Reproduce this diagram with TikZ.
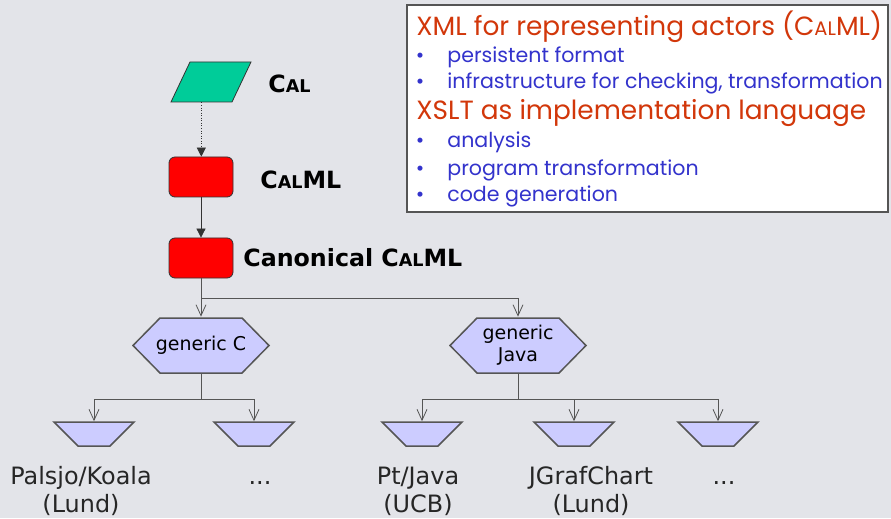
\documentclass[tikz,border=0pt]{standalone}
\usepackage{fontspec}
\setmainfont{DejaVu Sans}
\newfontfamily\notefont{Poppins}
\usetikzlibrary{arrows.meta,shapes.geometric}
\definecolor{slidegray}{RGB}{227,228,233}
\definecolor{calgreen}{RGB}{0,204,153}
\definecolor{calred}{RGB}{255,0,0}
\definecolor{backlilac}{RGB}{204,204,255}
\definecolor{edgegray}{RGB}{85,85,85}
\definecolor{headred}{RGB}{210,55,10}
\definecolor{itemblue}{RGB}{51,51,204}
\newcommand{\fakesc}[1]{\scalebox{0.74}{#1}}

\begin{document}
\begin{tikzpicture}[
    srcbox/.style={rectangle, xslant=0.475, minimum width=1.22cm, minimum height=0.80cm,
      inner sep=0pt, fill=calgreen, draw=black!80, line width=0.016cm},
    mlbox/.style={rectangle, rounded corners=0.12cm, minimum width=1.28cm,
      minimum height=0.80cm, fill=calred, draw=black!80, line width=0.016cm},
    % hexagon drawn inside a plain box
    genbox/.style={rectangle, minimum width=2.76cm, minimum height=1.14cm,
      inner sep=0pt, align=center, font=\fontsize{10.8}{12.5}\selectfont,
      path picture={
        \filldraw [fill=backlilac, draw=edgegray, line width=0.03cm]
          ([xshift=0.02cm]path picture bounding box.west)
          -- ([shift={(0.56cm,-0.02cm)}]path picture bounding box.north west)
          -- ([shift={(-0.56cm,-0.02cm)}]path picture bounding box.north east)
          -- ([xshift=-0.02cm]path picture bounding box.east)
          -- ([shift={(-0.56cm,0.02cm)}]path picture bounding box.south east)
          -- ([shift={(0.56cm,0.02cm)}]path picture bounding box.south west)
          -- cycle;}},
    tgtbox/.style={trapezium, shape border rotate=180, trapezium angle=53,
      trapezium stretches=true, minimum width=1.60cm, minimum height=0.48cm,
      inner sep=1pt, fill=backlilac, draw=edgegray, line width=0.03cm},
    boldlabel/.style={anchor=west, inner sep=0pt, font=\fontsize{13.5}{16}\selectfont\bfseries},
    tgtlabel/.style={align=center, inner sep=0pt, text=black!85,
      font=\fontsize{13.6}{16}\selectfont},
    notehead/.style={anchor=base west, inner sep=0pt, text=headred,
      font=\notefont\fontsize{15}{17}\selectfont},
    noteitem/.style={anchor=base west, inner sep=0pt, text=itemblue,
      font=\notefont\fontsize{11.7}{13}\selectfont},
    flow/.style={line width=0.016cm, draw=black!80},
    tree/.style={line width=0.016cm, draw=edgegray, -{Straight Barb[length=0.22cm, width=0.20cm]}}
  ]
  % background of the slide
  \fill [slidegray] (0.000000,0.000000) rectangle (17.820000,10.360000);%

  % Drawing the note box
  \node [draw=edgegray, fill=white, line width=0.03cm, minimum width=9.62cm,
    minimum height=4.14cm, inner sep=0pt] (notes) at (12.950000,8.190000) {};%
  \draw (8.320000,9.640000) node [notehead] (head1) {XML for representing actors (C\fakesc{AL}ML)};%
  \draw (8.400000,9.100000) node [noteitem, anchor=base] (dot1) {\textbullet};%
  \draw (8.940000,9.100000) node [noteitem] (item1) {persistent format};%
  \draw (8.400000,8.580000) node [noteitem, anchor=base] (dot2) {\textbullet};%
  \draw (8.940000,8.580000) node [noteitem] (item2) {infrastructure for checking, transformation};%
  \draw (8.320000,7.960000) node [notehead] (head2) {XSLT as implementation language};%
  \draw (8.400000,7.400000) node [noteitem, anchor=base] (dot3) {\textbullet};%
  \draw (8.940000,7.400000) node [noteitem] (item3) {analysis};%
  \draw (8.400000,6.840000) node [noteitem, anchor=base] (dot4) {\textbullet};%
  \draw (8.940000,6.840000) node [noteitem] (item4) {program transformation};%
  \draw (8.400000,6.320000) node [noteitem, anchor=base] (dot5) {\textbullet};%
  \draw (8.940000,6.320000) node [noteitem] (item5) {code generation};%

  % Drawing the Cal chain
  \node [srcbox] (cal) at (4.220000,8.720000) {};%
  \node [mlbox] (calml) at (4.020000,6.820000) {};%
  \node [mlbox] (canon) at (4.020000,5.200000) {};%
  \draw (5.360000,8.680000) node [boldlabel] (callab) {C\fakesc{AL}};%
  \draw (5.200000,6.760000) node [boldlabel] (calmllab) {C\fakesc{AL}ML};%
  \draw (4.860000,5.200000) node [boldlabel] (canonlab) {Canonical C\fakesc{AL}ML};%
  \draw [flow, densely dotted, -{Triangle[length=0.18cm, width=0.18cm]}]
    (cal.south) -- (cal.south |- calml.north);%
  \draw [flow, -{Triangle[length=0.18cm, width=0.18cm]}] (calml.south) -- (canon.north);%

  % Drawing the generic back ends
  \node [genbox] (genc) at (4.020000,3.450000) {generic C};%
  \node [genbox] (genj) at (10.360000,3.450000) {generic\\Java};%
  \draw [tree] (canon.south) -- (genc.north);%
  \draw [tree] (canon.south) -- ++(0,-0.40) -| (genj.north);%

  % Drawing the targets
  \node [tgtbox] (tgt1) at (1.880000,1.680000) {};%
  \node [tgtbox] (tgt2) at (5.080000,1.680000) {};%
  \node [tgtbox] (tgt3) at (8.440000,1.680000) {};%
  \node [tgtbox] (tgt4) at (11.480000,1.680000) {};%
  \node [tgtbox] (tgt5) at (14.360000,1.680000) {};%
  \draw [tree] (genc.south) -- ++(0,-0.50) -| (tgt1.north);%
  \draw [tree] (genc.south) -- ++(0,-0.50) -| (tgt2.north);%
  \draw [tree] (genj.south) -- ++(0,-0.50) -| (tgt3.north);%
  \draw [tree] (genj.south) -- ++(0,-0.50) -| (tgt4.north);%
  \draw [tree] (genj.south) -- ++(0,-0.50) -| (tgt5.north);%

  % Marking the target names
  \draw (1.620000,0.540000) node [tgtlabel] (lab1) {Palsjo/Koala\\(Lund)};%
  \draw (5.200000,0.680000) node [tgtlabel, anchor=base] (lab2) {...};%
  \draw (8.360000,0.540000) node [tgtlabel] (lab3) {Pt/Java\\(UCB)};%
  \draw (11.820000,0.540000) node [tgtlabel] (lab4) {JGrafChart\\(Lund)};%
  \draw (14.480000,0.680000) node [tgtlabel, anchor=base] (lab5) {...};%
\end{tikzpicture}
\end{document}
